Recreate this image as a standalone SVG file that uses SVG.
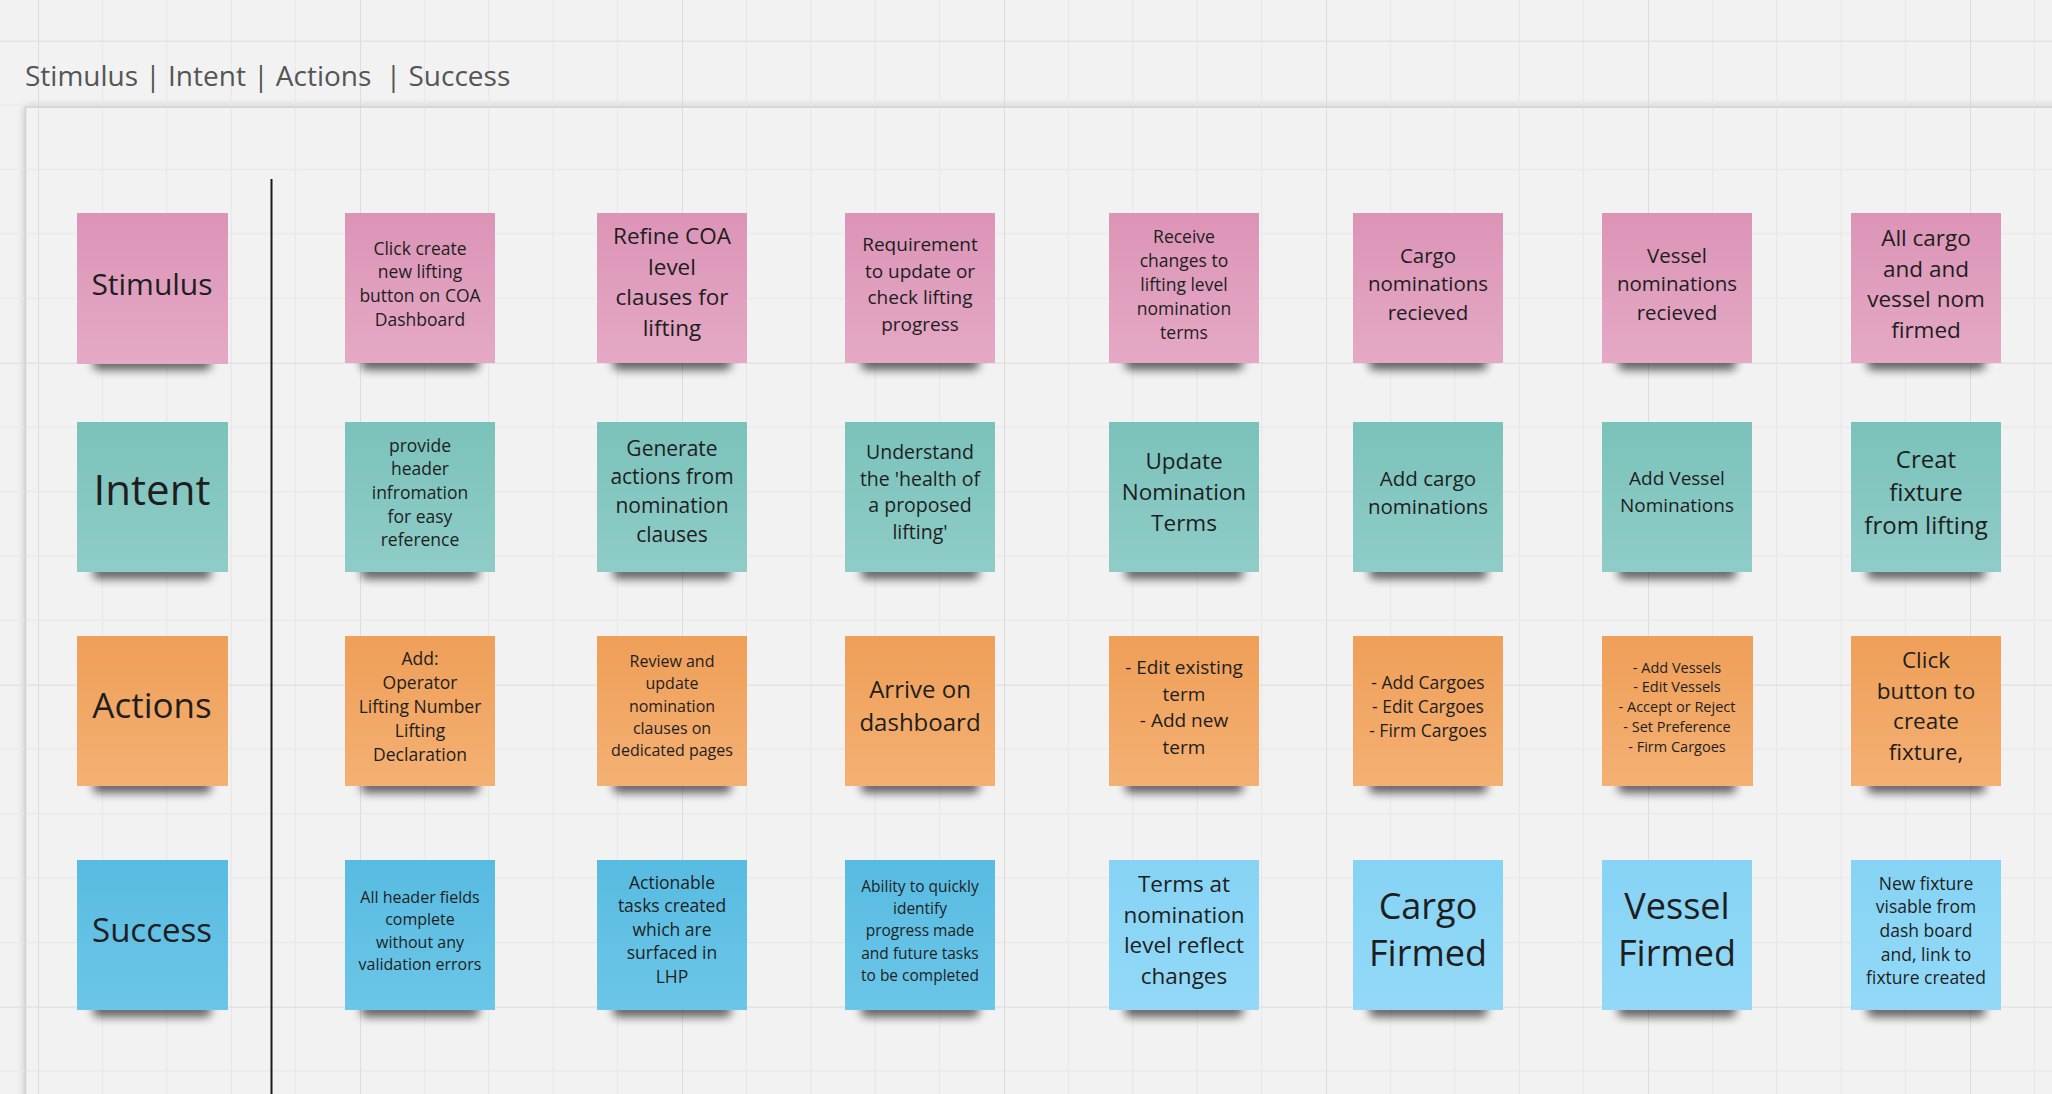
<svg xmlns="http://www.w3.org/2000/svg" width="2052" height="1094" viewBox="0 0 2052 1094">
<defs>
<pattern id="grid" patternUnits="userSpaceOnUse" x="38" y="40.7" width="322" height="322">
<g stroke="#e8e8e8" stroke-width="1.2">
<line x1="64.4" y1="0" x2="64.4" y2="322"/><line x1="128.8" y1="0" x2="128.8" y2="322"/><line x1="193.2" y1="0" x2="193.2" y2="322"/><line x1="257.6" y1="0" x2="257.6" y2="322"/>
<line x1="0" y1="64.4" x2="322" y2="64.4"/><line x1="0" y1="128.8" x2="322" y2="128.8"/><line x1="0" y1="193.2" x2="322" y2="193.2"/><line x1="0" y1="257.6" x2="322" y2="257.6"/>
</g>
<g stroke="#dcdcdc" stroke-width="2">
<line x1="0" y1="0" x2="0" y2="322"/><line x1="0" y1="0" x2="322" y2="0"/>
</g>
</pattern>
<linearGradient id="gPink" x1="0" y1="0" x2="0" y2="1"><stop offset="0" stop-color="#dc94b6"/><stop offset="1" stop-color="#e4a9c5"/></linearGradient>
<linearGradient id="gTeal" x1="0" y1="0" x2="0" y2="1"><stop offset="0" stop-color="#7bc2bb"/><stop offset="1" stop-color="#8fccc7"/></linearGradient>
<linearGradient id="gOrange" x1="0" y1="0" x2="0" y2="1"><stop offset="0" stop-color="#ef9f58"/><stop offset="1" stop-color="#f4b073"/></linearGradient>
<linearGradient id="gDBlue" x1="0" y1="0" x2="0" y2="1"><stop offset="0" stop-color="#58bbe1"/><stop offset="1" stop-color="#6bc6e8"/></linearGradient>
<linearGradient id="gLBlue" x1="0" y1="0" x2="0" y2="1"><stop offset="0" stop-color="#86d3f4"/><stop offset="1" stop-color="#93d9f7"/></linearGradient>
<filter id="blur" x="-30%" y="-150%" width="160%" height="400%"><feGaussianBlur stdDeviation="5"/></filter>
<filter id="fblur" x="-5%" y="-5%" width="110%" height="110%"><feGaussianBlur stdDeviation="4"/></filter>
<rect id="sh" x="16" y="143" width="118" height="14" rx="5" fill="#000" opacity="0.6" filter="url(#blur)"/>
</defs>
<style>
.t{font-family:"Open Sans","Noto Sans","Liberation Sans",sans-serif;fill:#1e1e1e;text-anchor:middle}
.pink{fill:url(#gPink)}
.teal{fill:url(#gTeal)}
.orange{fill:url(#gOrange)}
.dblue{fill:url(#gDBlue)}
.lblue{fill:url(#gLBlue)}
.title{font-family:"Open Sans","Noto Sans","Liberation Sans",sans-serif;fill:#555;font-size:28px;white-space:pre}
</style>
<rect width="2052" height="1094" fill="#f2f2f2"/>
<rect x="25.5" y="107" width="2100" height="1100" fill="#000" opacity="0.25" filter="url(#fblur)"/>
<rect x="25.5" y="107" width="2100" height="1100" fill="#f2f2f2"/>
<rect width="2052" height="1094" fill="url(#grid)"/>
<rect x="25.5" y="107" width="2100" height="1100" fill="none" stroke="#d2d2d2" stroke-width="1.5"/>
<text class="title" x="25" y="86">Stimulus | Intent | Actions  | Success</text>
<g id="connectors">
<line x1="271.5" y1="179" x2="271.5" y2="1094" stroke="#1a1a1a" stroke-width="2"/>
</g>

<!-- Stimulus row -->
<g id="n-stimulus" transform="translate(77,213)"><use href="#sh"/><rect class="pink" width="151" height="151"/><text class="t" font-size="30" x="75" y="82">Stimulus</text></g>
<g id="n-s1" transform="translate(345,213)"><use href="#sh"/><rect class="pink" width="150" height="150"/><text class="t" font-size="17.5" x="75" y="41.6"><tspan x="75">Click create</tspan><tspan x="75" dy="23.7">new lifting</tspan><tspan x="75" dy="23.7">button on COA</tspan><tspan x="75" dy="23.7">Dashboard</tspan></text></g>
<g id="n-s2" transform="translate(597,213)"><use href="#sh"/><rect class="pink" width="150" height="150"/><text class="t" font-size="22.5" x="75" y="31"><tspan x="75">Refine COA</tspan><tspan x="75" dy="30.7">level</tspan><tspan x="75" dy="30.7">clauses for</tspan><tspan x="75" dy="30.7">lifting</tspan></text></g>
<g id="n-s3" transform="translate(845,213)"><use href="#sh"/><rect class="pink" width="150" height="150"/><text class="t" font-size="19" x="75" y="38"><tspan x="75">Requirement</tspan><tspan x="75" dy="26.7">to update or</tspan><tspan x="75" dy="26.7">check lifting</tspan><tspan x="75" dy="26.7">progress</tspan></text></g>
<g id="n-s4" transform="translate(1109,213)"><use href="#sh"/><rect class="pink" width="150" height="150"/><text class="t" font-size="17.5" x="75" y="29.6"><tspan x="75">Receive</tspan><tspan x="75" dy="24">changes to</tspan><tspan x="75" dy="24">lifting level</tspan><tspan x="75" dy="24">nomination</tspan><tspan x="75" dy="24">terms</tspan></text></g>
<g id="n-s5" transform="translate(1353,213)"><use href="#sh"/><rect class="pink" width="150" height="150"/><text class="t" font-size="20.5" x="75" y="49.5"><tspan x="75">Cargo</tspan><tspan x="75" dy="28.5">nominations</tspan><tspan x="75" dy="28.5">recieved</tspan></text></g>
<g id="n-s6" transform="translate(1602,213)"><use href="#sh"/><rect class="pink" width="150" height="150"/><text class="t" font-size="20.5" x="75" y="49.5"><tspan x="75">Vessel</tspan><tspan x="75" dy="28.5">nominations</tspan><tspan x="75" dy="28.5">recieved</tspan></text></g>
<g id="n-s7" transform="translate(1851,213)"><use href="#sh"/><rect class="pink" width="150" height="150"/><text class="t" font-size="22.5" x="75" y="33"><tspan x="75">All cargo</tspan><tspan x="75" dy="30.7">and and</tspan><tspan x="75" dy="30.7">vessel nom</tspan><tspan x="75" dy="30.7">firmed</tspan></text></g>

<!-- Intent row -->
<g id="n-intent" transform="translate(77,422)"><use href="#sh"/><rect class="teal" width="151" height="150"/><text class="t" font-size="42" x="75" y="83">Intent</text></g>
<g id="n-i1" transform="translate(345,422)"><use href="#sh"/><rect class="teal" width="150" height="150"/><text class="t" font-size="17.5" x="75" y="29.6"><tspan x="75">provide</tspan><tspan x="75" dy="23.7">header</tspan><tspan x="75" dy="23.7">infromation</tspan><tspan x="75" dy="23.7">for easy</tspan><tspan x="75" dy="23.7">reference</tspan></text></g>
<g id="n-i2" transform="translate(597,422)"><use href="#sh"/><rect class="teal" width="150" height="150"/><text class="t" font-size="21" x="75" y="33.7"><tspan x="75">Generate</tspan><tspan x="75" dy="28.7">actions from</tspan><tspan x="75" dy="28.7">nomination</tspan><tspan x="75" dy="28.7">clauses</tspan></text></g>
<g id="n-i3" transform="translate(845,422)"><use href="#sh"/><rect class="teal" width="150" height="150"/><text class="t" font-size="19.5" x="75" y="37"><tspan x="75">Understand</tspan><tspan x="75" dy="26.7">the 'health of</tspan><tspan x="75" dy="26.7">a proposed</tspan><tspan x="75" dy="26.7">lifting'</tspan></text></g>
<g id="n-i4" transform="translate(1109,422)"><use href="#sh"/><rect class="teal" width="150" height="150"/><text class="t" font-size="22.5" x="75" y="47"><tspan x="75">Update</tspan><tspan x="75" dy="31">Nomination</tspan><tspan x="75" dy="31">Terms</tspan></text></g>
<g id="n-i5" transform="translate(1353,422)"><use href="#sh"/><rect class="teal" width="150" height="150"/><text class="t" font-size="20.5" x="75" y="63.5"><tspan x="75">Add cargo</tspan><tspan x="75" dy="28">nominations</tspan></text></g>
<g id="n-i6" transform="translate(1602,422)"><use href="#sh"/><rect class="teal" width="150" height="150"/><text class="t" font-size="19" x="75" y="63"><tspan x="75">Add Vessel</tspan><tspan x="75" dy="27">Nominations</tspan></text></g>
<g id="n-i7" transform="translate(1851,422)"><use href="#sh"/><rect class="teal" width="150" height="150"/><text class="t" font-size="24" x="75" y="45.7"><tspan x="75">Creat</tspan><tspan x="75" dy="33">fixture</tspan><tspan x="75" dy="33">from lifting</tspan></text></g>

<!-- Actions row -->
<g id="n-actions" transform="translate(77,636)"><use href="#sh"/><rect class="orange" width="151" height="150"/><text class="t" font-size="35" x="75" y="81.5">Actions</text></g>
<g id="n-a1" transform="translate(345,636)"><use href="#sh"/><rect class="orange" width="150" height="150"/><text class="t" font-size="17.5" x="75" y="28.6"><tspan x="75">Add:</tspan><tspan x="75" dy="24">Operator</tspan><tspan x="75" dy="24">Lifting Number</tspan><tspan x="75" dy="24">Lifting</tspan><tspan x="75" dy="24">Declaration</tspan></text></g>
<g id="n-a2" transform="translate(597,636)"><use href="#sh"/><rect class="orange" width="150" height="150"/><text class="t" font-size="16" x="75" y="31"><tspan x="75">Review and</tspan><tspan x="75" dy="22.3">update</tspan><tspan x="75" dy="22.3">nomination</tspan><tspan x="75" dy="22.3">clauses on</tspan><tspan x="75" dy="22.3">dedicated pages</tspan></text></g>
<g id="n-a3" transform="translate(845,636)"><use href="#sh"/><rect class="orange" width="150" height="150"/><text class="t" font-size="24" x="75" y="61.7"><tspan x="75">Arrive on</tspan><tspan x="75" dy="33">dashboard</tspan></text></g>
<g id="n-a4" transform="translate(1109,636)"><use href="#sh"/><rect class="orange" width="150" height="150"/><text class="t" font-size="19" x="75" y="38"><tspan x="75">- Edit existing</tspan><tspan x="75" dy="26.5">term</tspan><tspan x="75" dy="26.5">- Add new</tspan><tspan x="75" dy="26.5">term</tspan></text></g>
<g id="n-a5" transform="translate(1353,636)"><use href="#sh"/><rect class="orange" width="150" height="150"/><text class="t" font-size="17.5" x="75" y="52.6"><tspan x="75">- Add Cargoes</tspan><tspan x="75" dy="24">- Edit Cargoes</tspan><tspan x="75" dy="24">- Firm Cargoes</tspan></text></g>
<g id="n-a6" transform="translate(1602,636)"><use href="#sh"/><rect class="orange" width="151" height="150"/><text class="t" font-size="14.5" x="75" y="36.6"><tspan x="75">- Add Vessels</tspan><tspan x="75" dy="19.8">- Edit Vessels</tspan><tspan x="75" dy="19.8">- Accept or Reject</tspan><tspan x="75" dy="19.8">- Set Preference</tspan><tspan x="75" dy="19.8">- Firm Cargoes</tspan></text></g>
<g id="n-a7" transform="translate(1851,636)"><use href="#sh"/><rect class="orange" width="150" height="150"/><text class="t" font-size="22.5" x="75" y="32"><tspan x="75">Click</tspan><tspan x="75" dy="30.7">button to</tspan><tspan x="75" dy="30.7">create</tspan><tspan x="75" dy="30.7">fixture,</tspan></text></g>

<!-- Success row -->
<g id="n-success" transform="translate(77,860)"><use href="#sh"/><rect class="dblue" width="151" height="150"/><text class="t" font-size="33" x="75" y="81.8">Success</text></g>
<g id="n-u1" transform="translate(345,860)"><use href="#sh"/><rect class="dblue" width="150" height="150"/><text class="t" font-size="16" x="75" y="43"><tspan x="75">All header fields</tspan><tspan x="75" dy="22.4">complete</tspan><tspan x="75" dy="22.4">without any</tspan><tspan x="75" dy="22.4">validation errors</tspan></text></g>
<g id="n-u2" transform="translate(597,860)"><use href="#sh"/><rect class="dblue" width="150" height="150"/><text class="t" font-size="17.5" x="75" y="28.6"><tspan x="75">Actionable</tspan><tspan x="75" dy="23.6">tasks created</tspan><tspan x="75" dy="23.6">which are</tspan><tspan x="75" dy="23.6">surfaced in</tspan><tspan x="75" dy="23.6">LHP</tspan></text></g>
<g id="n-u3" transform="translate(845,860)"><use href="#sh"/><rect class="dblue" width="150" height="150"/><text class="t" font-size="15.5" x="75" y="32"><tspan x="75">Ability to quickly</tspan><tspan x="75" dy="22.2">identify</tspan><tspan x="75" dy="22.2">progress made</tspan><tspan x="75" dy="22.2">and future tasks</tspan><tspan x="75" dy="22.2">to be completed</tspan></text></g>
<g id="n-u4" transform="translate(1109,860)"><use href="#sh"/><rect class="lblue" width="150" height="150"/><text class="t" font-size="22.5" x="75" y="32"><tspan x="75">Terms at</tspan><tspan x="75" dy="30.7">nomination</tspan><tspan x="75" dy="30.7">level reflect</tspan><tspan x="75" dy="30.7">changes</tspan></text></g>
<g id="n-u5" transform="translate(1353,860)"><use href="#sh"/><rect class="lblue" width="150" height="150"/><text class="t" font-size="36" x="75" y="58.5"><tspan x="75">Cargo</tspan><tspan x="75" dy="47.7">Firmed</tspan></text></g>
<g id="n-u6" transform="translate(1602,860)"><use href="#sh"/><rect class="lblue" width="150" height="150"/><text class="t" font-size="36" x="75" y="58.5"><tspan x="75">Vessel</tspan><tspan x="75" dy="47.7">Firmed</tspan></text></g>
<g id="n-u7" transform="translate(1851,860)"><use href="#sh"/><rect class="lblue" width="150" height="150"/><text class="t" font-size="17.5" x="75" y="29.6"><tspan x="75">New fixture</tspan><tspan x="75" dy="23.7">visable from</tspan><tspan x="75" dy="23.7">dash board</tspan><tspan x="75" dy="23.7">and, link to</tspan><tspan x="75" dy="23.7">fixture created</tspan></text></g>
</svg>
